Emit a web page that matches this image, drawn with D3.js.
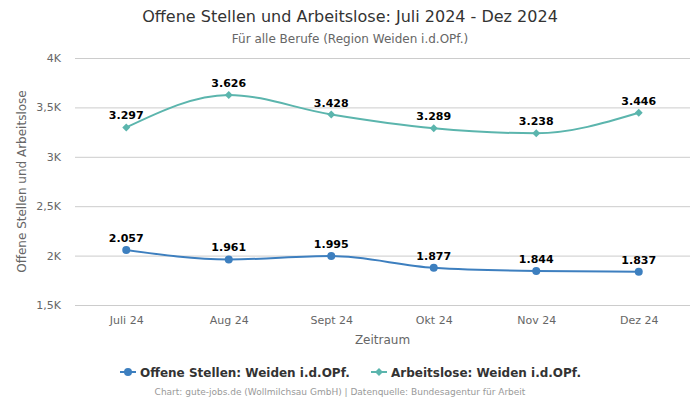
<!DOCTYPE html>
<html><head><meta charset="utf-8">
<script src="https://cdn.jsdelivr.net/npm/d3@7"></script>
<style>body{margin:0;background:#fff;font-family:"DejaVu Sans",sans-serif}</style>
</head><body><svg id="c" width="700" height="400"></svg>
<script>
const categories = ["Juli 24","Aug 24","Sept 24","Okt 24","Nov 24","Dez 24"];
const offeneStellen = [2057,1961,1995,1877,1844,1837];
const arbeitslose = [3297,3626,3428,3289,3238,3446];
const yTicks = [1500,2000,2500,3000,3500,4000];
const seriesNames = ["Offene Stellen: Weiden i.d.OPf.","Arbeitslose: Weiden i.d.OPf."];
const colors = ["#3d7fbf","#5bb5ad"];

const svg = d3.select("#c");
const L=75,R=690,T=58,B=305;
const x = d3.scalePoint().domain(categories).range([L,R]).padding(0.5);
const y = d3.scaleLinear().domain([1500,4000]).range([B,T]);
const fmtK = v => (v/1000).toString().replace(".",",")+"K";
const fmtV = v => (v/1000).toFixed(3);

svg.append("text").attr("x",350).attr("y",22).attr("text-anchor","middle").attr("font-size",16).attr("fill","#333").text("Offene Stellen und Arbeitslose: Juli 2024 - Dez 2024");
svg.append("text").attr("x",350).attr("y",43).attr("text-anchor","middle").attr("font-size",12).attr("fill","#666").text("Für alle Berufe (Region Weiden i.d.OPf.)");

const yAxis = svg.append("g").attr("transform",`translate(${L},0)`).call(d3.axisLeft(y).tickValues(yTicks).tickFormat(fmtK).tickSize(-(R-L)).tickPadding(14));
yAxis.select(".domain").remove();
yAxis.selectAll("line").attr("stroke","#ccc");
yAxis.selectAll("text").attr("font-size",11).attr("fill","#666").attr("font-family","DejaVu Sans");

const xAxis = svg.append("g").attr("transform",`translate(0,${B})`).call(d3.axisBottom(x).tickSize(0).tickPadding(11));
xAxis.select(".domain").remove();
xAxis.selectAll("text").attr("font-size",11).attr("fill","#666").attr("font-family","DejaVu Sans");

svg.append("text").attr("x",(L+R)/2).attr("y",344).attr("text-anchor","middle").attr("font-size",12).attr("fill","#666").text("Zeitraum");
svg.append("text").attr("transform",`translate(26,${(T+B)/2}) rotate(-90)`).attr("text-anchor","middle").attr("font-size",12).attr("fill","#666").text("Offene Stellen und Arbeitslose");

const line = d3.line().x((d,i)=>x(categories[i])).y(d=>y(d)).curve(d3.curveMonotoneX);
[offeneStellen,arbeitslose].forEach((data,si)=>{
  const g = svg.append("g");
  g.append("path").attr("d",line(data)).attr("fill","none").attr("stroke",colors[si]).attr("stroke-width",2);
  data.forEach((v,i)=>{
    const cx=x(categories[i]), cy=y(v);
    if(si===0) g.append("circle").attr("cx",cx).attr("cy",cy).attr("r",4).attr("fill",colors[si]);
    else g.append("path").attr("d",d3.symbol(d3.symbolDiamond2,40)()).attr("transform",`translate(${cx},${cy})`).attr("fill",colors[si]);
    g.append("text").attr("x",cx).attr("y",cy-8).attr("text-anchor","middle").attr("font-size",11).attr("font-weight","bold").attr("fill","#000").text(fmtV(v));
  });
});

// legend
const lg = svg.append("g");
const items = [{x:120,name:seriesNames[0]},{x:371,name:seriesNames[1]}];
items.forEach((it,i)=>{
  lg.append("line").attr("x1",it.x).attr("x2",it.x+16).attr("y1",372).attr("y2",372).attr("stroke",colors[i]).attr("stroke-width",2);
  if(i===0) lg.append("circle").attr("cx",it.x+8).attr("cy",372).attr("r",4).attr("fill",colors[i]);
  else lg.append("path").attr("d",d3.symbol(d3.symbolDiamond2,40)()).attr("transform",`translate(${it.x+8},372)`).attr("fill",colors[i]);
  lg.append("text").attr("x",it.x+20).attr("y",377).attr("font-size",12).attr("font-weight","bold").attr("fill","#333").text(it.name);
});
svg.append("text").attr("x",340).attr("y",395).attr("text-anchor","middle").attr("font-size",9).attr("fill","#999").text("Chart: gute-jobs.de (Wollmilchsau GmbH) | Datenquelle: Bundesagentur für Arbeit");
</script></body></html>
